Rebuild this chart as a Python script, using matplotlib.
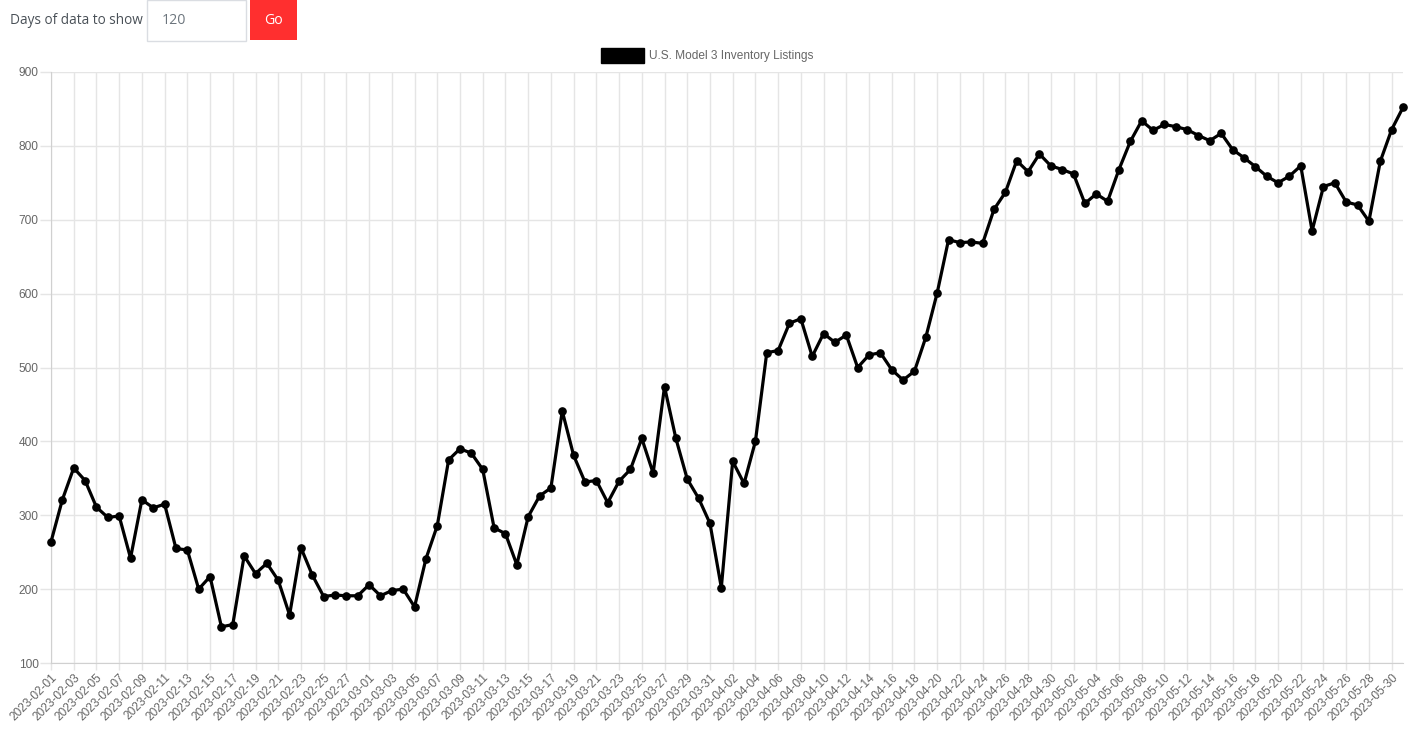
import matplotlib
matplotlib.use("Agg")
import matplotlib.pyplot as plt
import matplotlib.dates as mdates
from matplotlib.patches import Rectangle
import pandas as pd

# daily inventory listings, 2023-02-01 .. 2023-05-31
dates = pd.date_range("2023-02-01", "2023-05-31", freq="D")
inventory = [
    264, 321, 364, 347, 311, 297, 299, 242, 321, 310,
    315, 255, 253, 200, 217, 149, 152, 245, 221, 235,
    212, 165, 256, 219, 190, 192, 191, 191, 206, 191,
    198, 200, 176, 241, 286, 375, 390, 384, 362, 283,
    275, 233, 298, 326, 337, 441, 381, 345, 347, 317,
    346, 362, 404, 357, 474, 404, 349, 323, 289, 202,
    373, 343, 400, 520, 523, 560, 566, 515, 546, 534,
    544, 500, 517, 520, 497, 483, 495, 541, 601, 673,
    669, 670, 668, 714, 737, 780, 765, 789, 773, 768,
    762, 722, 735, 725, 768, 806, 834, 821, 829, 826,
    822, 814, 807, 817, 795, 784, 772, 759, 750, 759,
    773, 685, 745, 750, 724, 720, 698, 779, 822, 852,
]
series_label = "U.S. Model 3 Inventory Listings"
days_shown = "120"

W, H = 1417, 745
fig = plt.figure(figsize=(W / 100, H / 100), dpi=100)
plt.rcParams['font.family'] = ['Liberation Sans', 'DejaVu Sans']

def px(x, y):
    return x / W, 1 - y / H

ax = fig.add_axes([51 / W, 1 - 663 / H, (1403 - 51) / W, (663 - 72) / H])

ax.plot(dates, inventory, color="black", lw=2.3, marker="o", markersize=5.2,
        clip_on=False, zorder=3)

ax.set_xlim(dates[0], dates[-1])
ax.set_ylim(100, 900)
ax.set_yticks(range(100, 901, 100))
ax.set_xticks(dates[::2])
ax.xaxis.set_major_formatter(mdates.DateFormatter("%Y-%m-%d"))

grid_c = "#e5e5e5"
ax.grid(True, color=grid_c, lw=1)
ax.set_axisbelow(True)
for s in ["top", "right"]:
    ax.spines[s].set_visible(False)
for s in ["left", "bottom"]:
    ax.spines[s].set_color("#d0d0d0")
ax.tick_params(axis="both", colors=grid_c, labelcolor="#666666", labelsize=8.6,
               width=1)
ax.tick_params(axis="y", length=8, pad=1)
ax.tick_params(axis="x", length=5, pad=1)
plt.setp(ax.get_xticklabels(), rotation=45, ha="right", va="top",
         rotation_mode="anchor")

# legend box drawn like the web chart's
fig.patches.append(Rectangle(px(601, 63), 43 / W, 15 / H, transform=fig.transFigure,
                             facecolor="black", edgecolor="black"))
fig.text(*px(649, 56), series_label, color="#666666", fontsize=8.6, va="center")

# controls above the chart
fig.text(*px(10, 21), "Days of data to show", color="#495057", fontsize=9.8,
         family=["Open Sans", "DejaVu Sans"], va="center")
fig.patches.append(Rectangle(px(146.5, 40.5), 99 / W, 40 / H, transform=fig.transFigure,
                             facecolor="white", edgecolor="#dadde2", lw=1))
fig.text(*px(162, 21), days_shown, color="#6c757d", fontsize=10.2,
         family=["Open Sans", "DejaVu Sans"], va="center")
fig.patches.append(Rectangle(px(250, 40), 47 / W, 40 / H, transform=fig.transFigure,
                             facecolor="#ff2f2f", edgecolor="none"))
fig.text(*px(273.5, 21), "Go", color="white", fontsize=10.2,
         family=["Open Sans", "DejaVu Sans"], va="center", ha="center")

fig.savefig("out.png", dpi=100)
